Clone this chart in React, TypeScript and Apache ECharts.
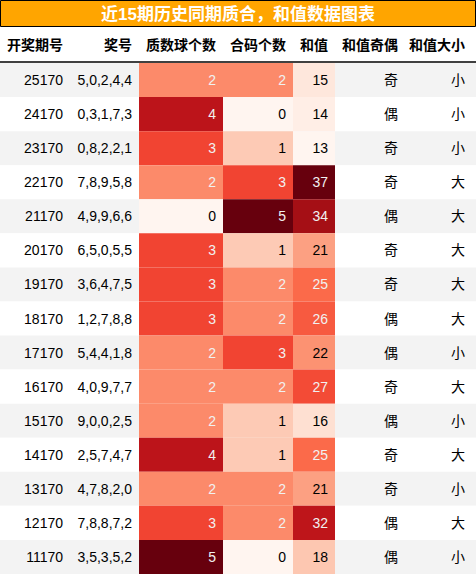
import React, { useEffect, useRef } from "react";
import * as echarts from "echarts";

const titleText = "近15期历史同期质合，和值数据图表";
const headers = ["开奖期号", "奖号", "质数球个数", "合码个数", "和值", "和值奇偶", "和值大小"];
const periods = ["25170", "24170", "23170", "22170", "21170", "20170", "19170", "18170", "17170", "16170", "15170", "14170", "13170", "12170", "11170"];
const numbers = ["5,0,2,4,4", "0,3,1,7,3", "0,8,2,2,1", "7,8,9,5,8", "4,9,9,6,6", "6,5,0,5,5", "3,6,4,7,5", "1,2,7,8,8", "5,4,4,1,8", "4,0,9,7,7", "9,0,0,2,5", "2,5,7,4,7", "4,7,8,2,0", "7,8,8,7,2", "3,5,3,5,2"];
const primeCounts = [2, 4, 3, 2, 0, 3, 3, 3, 2, 2, 2, 4, 2, 3, 5];
const compositeCounts = [2, 0, 1, 3, 5, 1, 2, 2, 3, 2, 1, 1, 2, 2, 0];
const sums = [15, 14, 13, 37, 34, 21, 25, 26, 22, 27, 16, 25, 21, 32, 18];
const parity = ["奇", "偶", "奇", "奇", "偶", "奇", "奇", "偶", "偶", "奇", "偶", "奇", "奇", "偶", "偶"];
const bigSmall = ["小", "小", "小", "大", "大", "大", "大", "大", "小", "大", "小", "大", "小", "大", "小"];

const REDS = ["#fff5f0", "#fee0d2", "#fcbba1", "#fc9272", "#fb6a4a", "#ef3b2c", "#cb181d", "#a50f15", "#67000d"];

function hexToRgb(h: string): number[] {
  return [parseInt(h.slice(1, 3), 16), parseInt(h.slice(3, 5), 16), parseInt(h.slice(5, 7), 16)];
}
function reds(t: number): number[] {
  const x = Math.max(0, Math.min(1, t)) * (REDS.length - 1);
  const i = Math.min(REDS.length - 2, Math.floor(x));
  const f = x - i;
  const a = hexToRgb(REDS[i]);
  const b = hexToRgb(REDS[i + 1]);
  return [0, 1, 2].map((k) => Math.round(a[k] + (b[k] - a[k]) * f));
}
function lum(c: number[]): number {
  const lin = c.map((v) => {
    const s = v / 255;
    return s <= 0.03928 ? s / 12.92 : Math.pow((s + 0.055) / 1.055, 2.4);
  });
  return 0.2126 * lin[0] + 0.7152 * lin[1] + 0.0722 * lin[2];
}

// layout: column edges (px)
const colEdges = [0, 70, 139, 223, 293, 335, 405, 472];
const WIDTH = 476;
const PAD = 7;
const FONT = '"Liberation Sans", Arial, "Noto Sans CJK SC", sans-serif';

type Cell = { col: number; row: number; text: string; fill: string | null; color: string };

function buildCells(): Cell[] {
  const heat = [primeCounts, compositeCounts, sums];
  const cells: Cell[] = [];
  periods.forEach((p, r) => {
    const texts = [p, numbers[r], String(primeCounts[r]), String(compositeCounts[r]), String(sums[r]), parity[r], bigSmall[r]];
    texts.forEach((t, c) => {
      let fill: string | null = null;
      let color = "#000000";
      if (c >= 2 && c <= 4) {
        const arr = heat[c - 2];
        const mn = Math.min(...arr);
        const mx = Math.max(...arr);
        const rgb = reds((arr[r] - mn) / (mx - mn));
        fill = `rgb(${rgb[0]},${rgb[1]},${rgb[2]})`;
        color = lum(rgb) < 0.408 ? "#f1f1f1" : "#000000";
      }
      cells.push({ col: c, row: r, text: t, fill, color });
    });
  });
  return cells;
}

export default function App() {
  const ref = useRef<HTMLDivElement>(null);
  useEffect(() => {
    if (!ref.current) return;
    const chart = echarts.init(ref.current, null, { renderer: "svg" });
    const cells = buildCells();
    const option: any = {
      animation: false,
      backgroundColor: "#ffffff",
      grid: { left: 0, right: 0, top: 63, bottom: 0 },
      xAxis: { type: "value", min: 0, max: WIDTH, show: false },
      yAxis: { type: "category", data: periods, inverse: true, show: false },
      graphic: [
        {
          type: "rect",
          shape: { x: 0.5, y: 0.5, width: WIDTH - 1, height: 26 },
          style: { fill: "#FFA500", stroke: "#000000", lineWidth: 1 },
        },
        {
          type: "text",
          x: WIDTH / 2,
          y: 14,
          style: {
            text: titleText,
            fill: "#ffffff",
            font: `bold 17px ${FONT}`,
            textAlign: "center",
            textVerticalAlign: "middle",
          },
        },
        ...headers.map((h, i) => ({
          type: "text",
          x: colEdges[i + 1] - PAD,
          y: 45,
          style: {
            text: h,
            fill: "#000000",
            font: `bold 14px ${FONT}`,
            textAlign: "right",
            textVerticalAlign: "middle",
          },
        })),
        {
          type: "line",
          shape: { x1: 0, y1: 62, x2: WIDTH, y2: 62 },
          style: { stroke: "#000000", lineWidth: 1.5 },
        },
      ],
      series: [
        {
          type: "custom",
          data: periods.map((_, r) => [r]),
          renderItem: (params: any, api: any) => {
            const r = api.value(0);
            const left = api.coord([0, r]);
            const right = api.coord([WIDTH, r]);
            const h = api.size([0, 1])[1];
            return {
              type: "rect",
              shape: { x: left[0], y: left[1] - h / 2, width: right[0] - left[0], height: h },
              style: { fill: r % 2 === 0 ? "#f3f3f3" : "#ffffff" },
            };
          },
          z: 1,
        },
        {
          type: "custom",
          data: cells.map((c) => [c.col, c.row]),
          renderItem: (params: any, api: any) => {
            const cell = cells[params.dataIndex];
            const c = cell.col;
            const r = cell.row;
            const p0 = api.coord([colEdges[c], r]);
            const p1 = api.coord([colEdges[c + 1], r]);
            const h = api.size([0, 1])[1];
            const children: any[] = [];
            if (cell.fill) {
              children.push({
                type: "rect",
                shape: { x: p0[0], y: p0[1] - h / 2, width: p1[0] - p0[0], height: h },
                style: { fill: cell.fill },
              });
            }
            children.push({
              type: "text",
              x: p1[0] - PAD,
              y: p0[1],
              style: {
                text: cell.text,
                fill: cell.color,
                font: `14px ${FONT}`,
                textAlign: "right",
                textVerticalAlign: "middle",
              },
            });
            return { type: "group", children };
          },
          z: 2,
        },
      ],
    };
    chart.setOption(option);
    return () => chart.dispose();
  }, []);
  return (
    <div
      ref={ref}
      style={{ position: "fixed", left: 0, top: 0, width: 476, height: 574 }}
    />
  );
}
